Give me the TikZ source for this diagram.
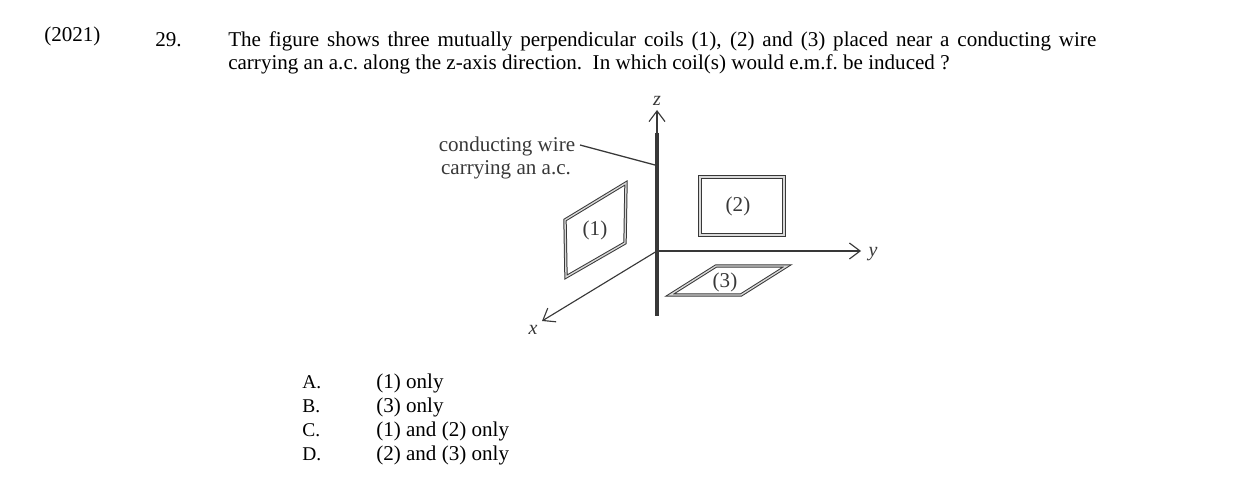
\documentclass[tikz,border=0pt]{standalone}
\usepackage{fontspec}
\setmainfont{Liberation Serif}
\usetikzlibrary{arrows.meta}
\definecolor{figgray}{gray}{0.22}
\tikzstyle{txt} = [inner sep=0pt, anchor=base west, font=\fontsize{15.8}{18}\selectfont]
\tikzstyle{opt} = [inner sep=0pt, anchor=base west, font=\fontsize{14.6}{18}\selectfont]
\tikzstyle{figtxt} = [inner sep=0pt, text=figgray, font=\fontsize{15.8}{18}\selectfont]
\tikzstyle{axislabel} = [inner sep=0pt, text=figgray, font=\fontsize{15}{17}\selectfont\itshape]
\tikzstyle{coil} = [draw=figgray, line width=0.75pt, double=white!85!black, double distance=1pt]
\tikzstyle{axis} = [draw=figgray, line width=0.85pt, -{Straight Barb[length=8pt,width=12pt]}]

\begin{document}
\begin{tikzpicture}[x=0.75pt, y=-0.75pt]
\useasboundingbox (0,0) rectangle (1240,499);

% header
\node (year) [txt] at (44,42) {(2021)};
\node (num) [txt] at (155,47) {29.};
\node (line1) [txt] at (228,47) {\makebox[651pt][s]{The figure shows three mutually perpendicular coils (1), (2) and (3) placed near a conducting wire}};
\node (line2) [txt] at (228,70) {carrying an a.c.\ along the z-axis direction.\ \ In which coil(s) would e.m.f.\ be induced ?};

% wire and axes
\coordinate (wiretop) at (657,133);
\coordinate (wirebot) at (657,316);
\coordinate (origin) at (657,251);
\coordinate (ztip) at (657,110);
\coordinate (ytip) at (861,251);
\coordinate (xtip) at (542,321);
\coordinate (leadstart) at (580,145);
\coordinate (leadend) at (655,165);

\draw [axis] (wiretop) -- (ztip);
\draw [axis] (origin) -- (ytip);
\draw [axis] (origin) -- (xtip);
\draw [figgray, line width=3.6pt] (wiretop) -- (wirebot);
\draw [figgray, line width=0.95pt] (leadstart) -- (leadend);

\node (zlab) [axislabel] at (657,101) {z};
\node (ylab) [axislabel] at (873,254) {y};
\node (xlab) [axislabel] at (533,330) {x};
\node (wire1) [figtxt] at (507,146) {conducting wire};
\node (wire2) [figtxt] at (506,170) {carrying an a.c.};

% coils
\draw [coil] (565,220) -- (626,183) -- (625,243) -- (566,277) -- cycle;
\draw [coil] (700,177) rectangle (784,235);
\draw [coil] (670,295) -- (741,295) -- (787,266) -- (716,266) -- cycle;
\node (coil1) [figtxt] at (595,230) {(1)};
\node (coil2) [figtxt] at (738,206) {(2)};
\node (coil3) [figtxt] at (725,282) {(3)};

% options
\node (optA) [opt] at (302,388) {A.};
\node (optB) [opt] at (302,412) {B.};
\node (optC) [opt] at (302,436) {C.};
\node (optD) [opt] at (302,460) {D.};
\node (ansA) [txt] at (376,388) {(1) only};
\node (ansB) [txt] at (376,412) {(3) only};
\node (ansC) [txt] at (376,436) {(1) and (2) only};
\node (ansD) [txt] at (376,460) {(2) and (3) only};

\end{tikzpicture}
\end{document}
